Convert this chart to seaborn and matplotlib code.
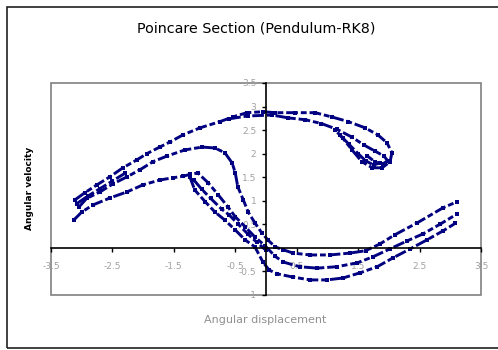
import matplotlib
matplotlib.use("Agg")
import matplotlib.pyplot as plt
from matplotlib.patches import Rectangle
import seaborn as sns
import pandas as pd

# ---- data (angular displacement, angular velocity) ----
outer_x = [-3.11, -2.95, -2.75, -2.54, -2.33, -2.10, -1.94, -1.73, -1.56, -1.35, -1.07, -0.75,
           -0.54, -0.31, -0.05, 0.15, 0.47, 0.80, 1.07, 1.34, 1.61, 1.82, 1.97, 2.05, 2.02, 1.89,
           1.73, 1.56, 1.40, 1.25, 1.12]
outer_y = [1.02, 1.17, 1.34, 1.51, 1.70, 1.87, 2.00, 2.14, 2.25, 2.40, 2.55, 2.68,
           2.78, 2.87, 2.89, 2.87, 2.87, 2.87, 2.78, 2.68, 2.55, 2.40, 2.23, 2.02, 1.83, 1.70,
           1.70, 1.83, 2.08, 2.33, 2.51]

top2_x = [-0.60, -0.30, 0.10, 0.36, 0.64, 0.90, 1.15, 1.40, 1.60, 1.78, 1.92, 1.98, 1.90, 1.78, 1.65]
top2_y = [2.74, 2.80, 2.82, 2.76, 2.72, 2.64, 2.52, 2.35, 2.18, 2.05, 1.95, 1.85, 1.78, 1.82, 1.95]

hook_x = [1.20, 1.35, 1.50, 1.62, 1.75, 1.85]
hook_y = [2.40, 2.20, 2.00, 1.85, 1.76, 1.80]

middle_x = [-3.05, -2.92, -2.70, -2.49, -2.26, -2.05, -1.84, -1.61, -1.32, -1.04, -0.83, -0.67,
            -0.55, -0.50, -0.46, -0.37, -0.29, -0.18, -0.07, 0.03, 0.15, 0.28, 0.44, 0.72, 1.04,
            1.37, 1.62, 1.85, 2.10, 2.46, 2.88, 3.11]
middle_y = [0.86, 1.05, 1.19, 1.36, 1.51, 1.66, 1.83, 1.95, 2.08, 2.14, 2.12, 2.02,
            1.80, 1.59, 1.30, 1.02, 0.76, 0.53, 0.32, 0.17, 0.02, -0.04, -0.11, -0.15, -0.15,
            -0.11, -0.06, 0.08, 0.28, 0.53, 0.85, 0.98]

inner_x = [-3.13, -3.00, -2.82, -2.54, -2.26, -2.00, -1.73, -1.51, -1.35, -1.24, -1.11, -0.94,
           -0.78, -0.62, -0.50, -0.34, -0.18, -0.02, 0.15, 0.28, 0.55, 0.83, 1.15, 1.48, 1.74,
           2.02, 2.30, 2.56, 2.83, 3.11]
inner_y = [0.59, 0.76, 0.91, 1.06, 1.19, 1.34, 1.44, 1.49, 1.52, 1.56, 1.59, 1.38,
           1.13, 0.87, 0.66, 0.45, 0.23, 0.05, -0.18, -0.30, -0.40, -0.43, -0.40, -0.32, -0.19,
           -0.02, 0.15, 0.30, 0.50, 0.72]

fold_x = [-1.24, -1.16, -0.99, -0.83, -0.67, -0.50, -0.34, -0.18, -0.05, 0.05, 0.18, 0.44,
          0.72, 0.99, 1.25, 1.53, 1.81, 2.07, 2.35, 2.62, 2.88, 3.08]
fold_y = [1.51, 1.23, 0.98, 0.76, 0.59, 0.38, 0.17, 0.02, -0.30, -0.47, -0.55, -0.62,
          -0.68, -0.68, -0.64, -0.53, -0.40, -0.21, -0.02, 0.17, 0.36, 0.52]

fill_x = [-1.18, -1.05, -0.90, -0.72, -0.60, -0.45, -0.30, -0.15, 0.00]
fill_y = [1.45, 1.25, 1.05, 0.82, 0.70, 0.50, 0.30, 0.12, -0.05]

left2_x = [-3.08, -2.90, -2.70, -2.50, -2.30]
left2_y = [0.94, 1.10, 1.26, 1.42, 1.58]

strands = {
    "outer": (outer_x, outer_y),
    "top2": (top2_x, top2_y),
    "hook": (hook_x, hook_y),
    "middle": (middle_x, middle_y),
    "inner": (inner_x, inner_y),
    "fold": (fold_x, fold_y),
    "fill": (fill_x, fill_y),
    "left2": (left2_x, left2_y),
}

x_ticks = [-3.5, -2.5, -1.5, -0.5, 0.5, 1.5, 2.5, 3.5]
x_labels = ["-3.5", "-2.5", "-1.5", "-0.5", "0.5", "1.5", "2.5", "3.5"]
y_ticks = [-1, -0.5, 0, 0.5, 1, 1.5, 2, 2.5, 3, 3.5]
y_labels = ["-1", "-0.5", "", "0.5", "1", "1.5", "2", "2.5", "3", "3.5"]

rows = []
for name, (xs, ys) in strands.items():
    for i, (a, b) in enumerate(zip(xs, ys)):
        rows.append({"strand": name, "order": i, "x": a, "y": b})
df = pd.DataFrame(rows)

sns.set_style("white")
plt.rcParams["font.family"] = ["DejaVu Sans"]

NAVY = "#000080"
GRAY_TXT = "#a0a0a0"

fig = plt.figure(figsize=(4.98, 3.5), dpi=100)
ax = fig.add_axes([51 / 498, 1 - 295 / 350, 430 / 498, 212 / 350])

for name in strands:
    sub = df[df["strand"] == name]
    sns.lineplot(data=sub, x="x", y="y", sort=False, estimator=None, ax=ax,
                 color=NAVY, linewidth=2.1, linestyle=(0, (4, 1, 2, 1)), legend=False)
sns.scatterplot(data=df, x="x", y="y", ax=ax, color=NAVY, marker="s", s=7,
                linewidth=0, legend=False)

ax.set_xlim(-3.5, 3.5)
ax.set_ylim(-1, 3.5)

for side in ["top", "right"]:
    ax.spines[side].set_visible(False)
ax.spines["left"].set_position(("data", 0))
ax.spines["bottom"].set_position(("data", 0))
for side in ["left", "bottom"]:
    ax.spines[side].set_color("black")
    ax.spines[side].set_linewidth(1.2)
ax.add_patch(Rectangle((0, 0), 1, 1, transform=ax.transAxes, fill=False,
                       ec="#808080", lw=1.2, clip_on=False, zorder=0))

ax.set_xticks(x_ticks)
ax.set_xticklabels(x_labels)
ax.set_yticks(y_ticks)
ax.set_yticklabels(y_labels)
ax.tick_params(axis="both", direction="out", length=3, width=1, color="black",
               labelsize=6.5, labelcolor=GRAY_TXT)
ax.tick_params(axis="x", pad=7)
ax.tick_params(axis="y", pad=4)
ax.xaxis.set_ticks_position("bottom")
ax.yaxis.set_ticks_position("left")
ax.set_xlabel("")
ax.set_ylabel("")

fig.text(256 / 498, 1 - 28 / 350, "Poincare Section (Pendulum-RK8)", ha="center",
         va="center", fontsize=10.3, color="black")
fig.text(265 / 498, 1 - 320 / 350, "Angular displacement", ha="center", va="center",
         fontsize=8, color="#909090")
fig.text(30 / 498, 1 - 188 / 350, "Angular velocity", ha="center", va="center",
         rotation=90, fontsize=6.5, fontweight="bold", color="black")

fig.patches.append(Rectangle((7 / 498, 2 / 350), 1.2, 341 / 350, transform=fig.transFigure,
                             fill=False, ec="#202020", lw=1.2))

fig.savefig("out.png", dpi=100)
